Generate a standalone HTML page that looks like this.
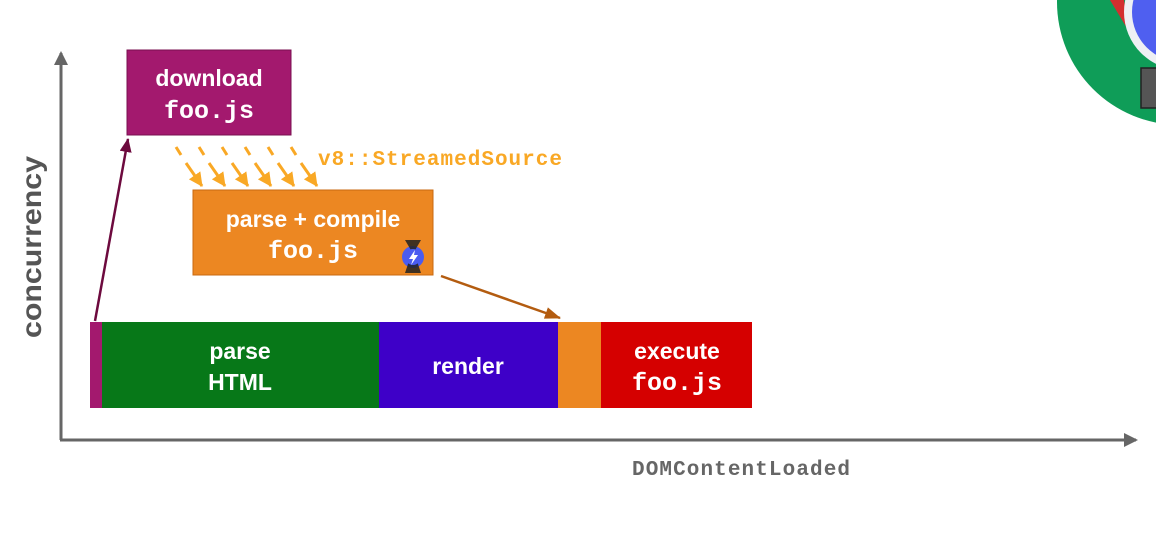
<!DOCTYPE html>
<html><head><meta charset="utf-8"><style>
html,body{margin:0;padding:0;background:#fff;width:1156px;height:542px;overflow:hidden}
svg{display:block}
.s{font-family:"Liberation Sans",sans-serif;font-weight:bold;fill:#fff;text-anchor:middle}
.m{font-family:"Liberation Mono",monospace;font-weight:bold;fill:#fff;text-anchor:middle}
</style></head><body>
<svg width="1156" height="542" viewBox="0 0 1156 542">
<defs>
<marker id="ag" markerWidth="14" markerHeight="14" refX="12" refY="7" orient="auto" markerUnits="userSpaceOnUse"><path d="M0,0 L14,7 L0,14z" fill="#666"/></marker>
<marker id="am" markerWidth="14" markerHeight="12" refX="13" refY="6" orient="auto" markerUnits="userSpaceOnUse"><path d="M0,0 L14,6 L0,12z" fill="#6d0a3e"/></marker>
<marker id="ab" markerWidth="16" markerHeight="12" refX="15" refY="6" orient="auto" markerUnits="userSpaceOnUse"><path d="M0,0 L16,6 L0,12z" fill="#b35c10"/></marker>
<marker id="ao" markerWidth="14" markerHeight="14" refX="13" refY="7" orient="auto" markerUnits="userSpaceOnUse"><path d="M0,0 L14,7 L0,14z" fill="#f9a825"/></marker>
</defs>
<circle cx="1180" cy="2" r="123" fill="#0f9d58"/>
<path d="M1110,0 L1124,0 L1128,30 Z" fill="#d32f2f"/>
<circle cx="1182" cy="12" r="58" fill="#eef0f4"/>
<circle cx="1182" cy="12" r="50" fill="#4f5ff0"/>
<rect x="1141" y="68" width="20" height="40" fill="#555" stroke="#222" stroke-width="1.5"/>
<line x1="61" y1="440" x2="61" y2="53" stroke="#666" stroke-width="3" marker-end="url(#ag)"/>
<line x1="60" y1="440" x2="1136" y2="440" stroke="#666" stroke-width="3" marker-end="url(#ag)"/>
<text transform="translate(41,247) rotate(-90)" font-family="Liberation Sans,sans-serif" font-weight="bold" font-size="28" fill="#555" text-anchor="middle" textLength="182" lengthAdjust="spacingAndGlyphs">concurrency</text>
<text x="741" y="475" font-family="Liberation Mono,monospace" font-weight="bold" font-size="21" fill="#666" text-anchor="middle" textLength="218">DOMContentLoaded</text>
<rect x="90" y="322" width="12" height="86" fill="#a3196e"/>
<rect x="102" y="322" width="277" height="86" fill="#077818"/>
<rect x="379" y="322" width="179" height="86" fill="#3e00c8"/>
<rect x="558" y="322" width="43" height="86" fill="#ec8722"/>
<rect x="601" y="322" width="151" height="86" fill="#d50000"/>
<text class="s" x="240" y="359" font-size="23">parse</text>
<text class="s" x="240" y="390" font-size="23">HTML</text>
<text class="s" x="468" y="374" font-size="23">render</text>
<text class="s" x="677" y="359" font-size="23">execute</text>
<text class="m" x="677" y="390" font-size="25">foo.js</text>
<rect x="127" y="50" width="164" height="85" fill="#a3196e" stroke="#7a1050" stroke-width="1"/>
<text class="s" x="209" y="86" font-size="23">download</text>
<text class="m" x="209" y="118" font-size="25">foo.js</text>
<rect x="193" y="190" width="240" height="85" fill="#ec8722" stroke="#c96a10" stroke-width="1"/>
<text class="s" x="313" y="227" font-size="23">parse + compile</text>
<text class="m" x="313" y="258" font-size="25">foo.js</text>
<circle cx="413" cy="257" r="11" fill="#4a5cf0"/>
<path d="M405,240 L421,240 L414,252 L421,273 L405,273 L412,252Z" fill="#222" opacity="0.85"/>
<circle cx="413" cy="257" r="8" fill="#4a5cf0"/>
<path d="M415,250 L409,259 L413,259 L411,265 L418,255 L414,255Z" fill="#fff"/>
<g stroke="#f9a825" stroke-width="3">
<line x1="176" y1="147" x2="181" y2="155"/><line x1="186" y1="163" x2="202" y2="186" marker-end="url(#ao)"/>
<line x1="199" y1="147" x2="204" y2="155"/><line x1="209" y1="163" x2="225" y2="186" marker-end="url(#ao)"/>
<line x1="222" y1="147" x2="227" y2="155"/><line x1="232" y1="163" x2="248" y2="186" marker-end="url(#ao)"/>
<line x1="245" y1="147" x2="250" y2="155"/><line x1="255" y1="163" x2="271" y2="186" marker-end="url(#ao)"/>
<line x1="268" y1="147" x2="273" y2="155"/><line x1="278" y1="163" x2="294" y2="186" marker-end="url(#ao)"/>
<line x1="291" y1="147" x2="296" y2="155"/><line x1="301" y1="163" x2="317" y2="186" marker-end="url(#ao)"/>
</g>
<text x="318" y="165" font-family="Liberation Mono,monospace" font-weight="bold" font-size="21" fill="#f9a825" textLength="244">v8::StreamedSource</text>
<line x1="95" y1="321" x2="128" y2="139" stroke="#6d0a3e" stroke-width="2.5" marker-end="url(#am)"/>
<line x1="441" y1="276" x2="560" y2="318" stroke="#b35c10" stroke-width="2.5" marker-end="url(#ab)"/>
</svg>
</body></html>
